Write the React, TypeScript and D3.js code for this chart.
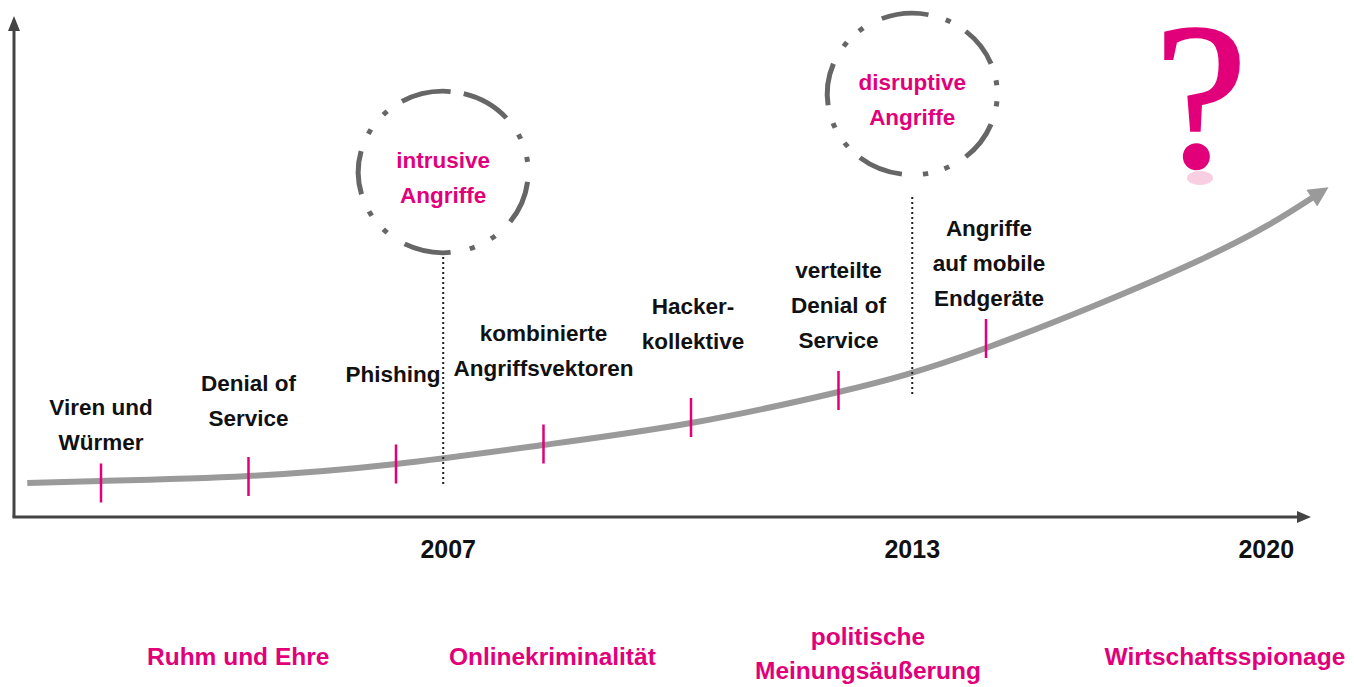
import React from "react";
import * as d3 from "d3";

// ---- data ----
const eventLabels: string[][] = [
  ["Viren und", "Würmer"],
  ["Denial of", "Service"],
  ["Phishing"],
  ["kombinierte", "Angriffsvektoren"],
  ["Hacker-", "kollektive"],
  ["verteilte", "Denial of", "Service"],
  ["Angriffe", "auf mobile", "Endgeräte"],
];
const eventStages = [0, 1, 2, 3, 4, 5, 6];
const eventLevels = [6.8, 8.1, 10.6, 14.6, 19.9, 25.3, 35.7];

const curveStages = [-0.5, 0, 1, 2, 3, 4, 5, 6, 7.45, 8.22];
const curveLevels = [6.8, 7.2, 8.2, 10.6, 14.4, 18.8, 25.0, 33.8, 51.4, 64.0];

const yearLabels = ["2007", "2013", "2020"];
const yearStages = [2.32, 5.5, 7.9];

const circleTexts: string[][] = [
  ["intrusive", "Angriffe"],
  ["disruptive", "Angriffe"],
];
const circleLevels = [69.0, 84.6];

const eraLabels: string[][] = [
  ["Ruhm und Ehre"],
  ["Onlinekriminalität"],
  ["politische", "Meinungsäußerung"],
  ["Wirtschaftsspionage"],
];
const eraStages = [0.93, 3.06, 5.2, 7.62];

// ---- layout / style ----
const W = 1354;
const H = 687;
const MAGENTA = "#e2007a";
const FONT = "'Liberation Sans', Arial, Helvetica, sans-serif";
const labelFirstBaseline = [415, 391, 382, 341, 314, 278, 236];
const labelDx = [0, 0, -3, 0, 2, 0, 3];
const dottedTop = [252, 197];
const dottedBottom = [484, 395];
// dash-dot pattern of the hand-drawn circles (degrees, 0 = right, clockwise)
const circleDashes: [number, number][][] = [
  [[7, 38], [85, 117], [164, 195], [241, 275], [284, 318]],
  [[22, 51], [97, 128], [172, 202], [249, 281], [309, 338]],
];
const circleDots: number[][] = [
  [54, 70, 133, 149, 210, 227, 334, 351],
  [7, 66, 81, 141, 157, 218, 233, 295, 352],
];

export default function App() {
  const x = d3.scaleLinear().domain([0, 6]).range([101, 986]);
  const y = d3.scaleLinear().domain([0, 100]).range([517, 17]);

  const pts: [number, number][] = curveStages.map((s, i) => [s, curveLevels[i]]);
  const line = d3
    .line<[number, number]>()
    .x((d) => x(d[0]))
    .y((d) => y(d[1]))
    .curve(d3.curveNatural);

  const axisX0 = 14;
  const axisY0 = y(0);
  const R = 85;
  const toRad = (deg: number) => ((deg + 90) * Math.PI) / 180;
  const arc = d3.arc<{ a0: number; a1: number }>()
    .innerRadius(R - 2.5)
    .outerRadius(R + 2.5)
    .startAngle((d) => toRad(d.a0))
    .endAngle((d) => toRad(d.a1));

  return (
    <svg
      width={W}
      height={H}
      style={{ position: "absolute", left: 0, top: 0, background: "#fff" }}
      fontFamily={FONT}
    >
      <defs>
        <marker
          id="curveArrow"
          viewBox="0 0 10 10"
          refX={1}
          refY={5}
          markerWidth={26}
          markerHeight={20}
          markerUnits="userSpaceOnUse"
          orient="auto"
        >
          <path d="M0,0 L10,5 L0,10 z" fill="#9a9a9a" />
        </marker>
      </defs>

      {/* axes */}
      <line x1={axisX0} y1={axisY0} x2={axisX0} y2={30} stroke="#444" strokeWidth={3} />
      <path d={`M${axisX0 - 6},31 L${axisX0},16 L${axisX0 + 6},31 z`} fill="#444" />
      <line x1={axisX0 - 1.5} y1={axisY0} x2={1298} y2={axisY0} stroke="#444" strokeWidth={3} />
      <path d={`M1297,${axisY0 - 6} L1311,${axisY0} L1297,${axisY0 + 6} z`} fill="#444" />

      {/* curve */}
      <path
        d={line(pts) || ""}
        fill="none"
        stroke="#9a9a9a"
        strokeWidth={6}
        markerEnd="url(#curveArrow)"
      />

      {/* dotted year lines and circles */}
      {circleTexts.map((txt, i) => {
        const cx = x(yearStages[i]);
        const cy = y(circleLevels[i]);
        return (
          <g key={"c" + i}>
            <line
              x1={cx}
              x2={cx}
              y1={dottedTop[i]}
              y2={dottedBottom[i]}
              stroke="#222"
              strokeWidth={2}
              strokeDasharray="2 3"
            />
            <g transform={`translate(${cx},${cy}) scale(1,0.95)`} fill="#666">
              {circleDashes[i].map((d, k) => (
                <path key={"d" + k} d={arc({ a0: d[0], a1: d[1] }) || ""} />
              ))}
              {circleDots[i].map((a, k) => (
                <path key={"p" + k} d={arc({ a0: a - 1.8, a1: a + 1.8 }) || ""} />
              ))}
            </g>
            {txt.map((t, j) => (
              <text
                key={j}
                x={cx}
                y={cy - 4 + j * 35}
                textAnchor="middle"
                fill={MAGENTA}
                fontSize={22.5}
                fontWeight="bold"
              >
                {t}
              </text>
            ))}
          </g>
        );
      })}

      {/* event ticks and labels */}
      {eventStages.map((s, i) => {
        const cx = x(s);
        const cy = y(eventLevels[i]);
        return (
          <g key={"e" + i}>
            <line x1={cx} x2={cx} y1={cy - 19.5} y2={cy + 19.5} stroke={MAGENTA} strokeWidth={2.5} />
            {eventLabels[i].map((t, j) => (
              <text
                key={j}
                x={cx + labelDx[i]}
                y={labelFirstBaseline[i] + j * 35}
                textAnchor="middle"
                fill="#111"
                fontSize={22.5}
                fontWeight="bold"
              >
                {t}
              </text>
            ))}
          </g>
        );
      })}

      {/* year labels */}
      {yearLabels.map((t, i) => (
        <text
          key={"y" + i}
          x={x(yearStages[i]) + (i === 0 ? 5 : 0)}
          y={558}
          textAnchor="middle"
          fill="#111"
          fontSize={25}
          fontWeight="bold"
        >
          {t}
        </text>
      ))}

      {/* era labels */}
      {eraLabels.map((lines, i) =>
        lines.map((t, j) => (
          <text
            key={"r" + i + "-" + j}
            x={x(eraStages[i])}
            y={lines.length === 1 ? 665 : 645 + j * 34}
            textAnchor="middle"
            fill={MAGENTA}
            fontSize={24.5}
            fontWeight="bold"
          >
            {t}
          </text>
        ))
      )}

      {/* question mark with faint reflection */}
      <ellipse cx={1200} cy={178} rx={13} ry={7} fill="#f3a6cc" opacity={0.55} />
      <text
        x={1201}
        y={166}
        textAnchor="middle"
        fill={MAGENTA}
        stroke={MAGENTA}
        strokeWidth={2.5}
        fontSize={208}
        fontFamily="'Liberation Serif', 'Times New Roman', serif"
      >
        ?
      </text>
    </svg>
  );
}
